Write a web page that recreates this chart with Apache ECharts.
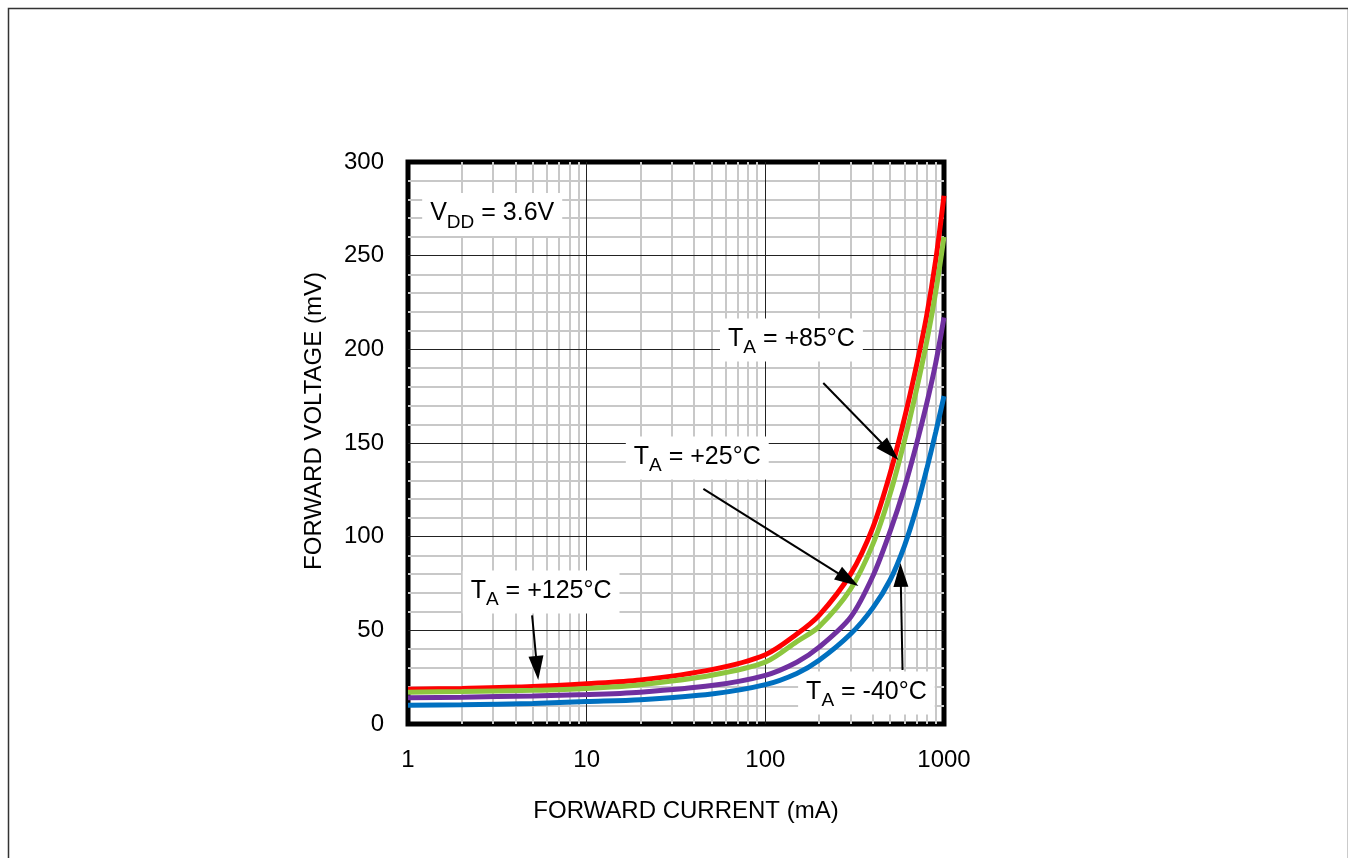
<!DOCTYPE html>
<html>
<head>
<meta charset="utf-8">
<script src="https://cdn.jsdelivr.net/npm/echarts@6/dist/echarts.min.js"></script>
<style>
  html, body { margin: 0; padding: 0; background: #fff; }
  #chart { width: 1348px; height: 858px; }
</style>
</head>
<body>
<div id="chart"></div>
<script>
  // forward current (mA) and forward voltage (mV) per temperature
  var current = [1, 2, 5, 10, 20, 50, 100, 150, 200, 300, 400, 500, 600, 700, 800, 900, 1000];
  var vf125 = [18.5, 19, 20, 21.5, 23.5, 29, 37, 48, 58, 80, 105, 134, 163, 191, 218, 248, 282];
  var vf85 = [17, 17.3, 18, 19, 21, 26, 33, 44, 52, 72, 96, 123, 151, 178, 204, 231, 260];
  var vf25 = [14, 14.3, 15, 15.7, 17, 20.5, 26, 33, 41, 57, 79, 103, 126, 149, 171, 193, 217];
  var vfm40 = [10, 10.3, 11, 12, 13, 16, 21, 27, 34, 48, 62, 77, 95, 115, 136, 156, 175];

  var xTicks = [1, 10, 100, 1000];
  var yTicks = [0, 50, 100, 150, 200, 250, 300];
  var xMinor = [2, 3, 4, 5, 6, 7, 8, 9, 20, 30, 40, 50, 60, 70, 80, 90, 200, 300, 400, 500, 600, 700, 800, 900];
  var yMinor = [10, 20, 30, 40, 60, 70, 80, 90, 110, 120, 130, 140, 160, 170, 180, 190, 210, 220, 230, 240, 260, 270, 280, 290];

  var font = "'Liberation Sans', Arial, Helvetica, sans-serif";

  function pairs(ys) {
    return current.map(function (x, i) { return [x, ys[i]]; });
  }

  function curve(name, ys, color) {
    return {
      name: name,
      type: 'line',
      data: pairs(ys),
      smooth: 0.3,
      showSymbol: false,
      z: 3,
      lineStyle: { color: color, width: 5 },
      itemStyle: { color: color }
    };
  }

  function gridLines(xs, ys, color, width, z) {
    return {
      type: 'line',
      data: [],
      z: z,
      silent: true,
      markLine: {
        z: z,
        silent: true,
        symbol: 'none',
        label: { show: false },
        animation: false,
        lineStyle: { color: color, width: width, type: 'solid' },
        data: xs.map(function (v) { return { xAxis: v }; })
          .concat(ys.map(function (v) { return { yAxis: v }; }))
      }
    };
  }

  var txt = { fontFamily: font, fontSize: 25, color: '#000' };
  var sub = { fontFamily: font, fontSize: 19, color: '#000', padding: [18, 0, 0, 0] };

  function note(coord, text) {
    return {
      coord: coord,
      symbol: 'circle',
      symbolSize: 1,
      itemStyle: { color: 'rgba(0,0,0,0)' },
      label: {
        show: true,
        position: 'inside',
        formatter: text,
        backgroundColor: '#fff',
        padding: [2, 8, 4, 8],
        rich: { t: txt, s: sub }
      }
    };
  }

  function arrow(from, to) {
    return [
      { coord: from, symbol: 'none' },
      { coord: to, symbol: 'triangle', symbolSize: [15, 24] }
    ];
  }

  var chart = echarts.init(document.getElementById('chart'));

  chart.setOption({
    animation: false,
    backgroundColor: '#fff',
    textStyle: { fontFamily: font },
    graphic: [{
      type: 'rect',
      left: 6, top: 6,
      shape: { width: 1340, height: 870 },
      style: { fill: 'none', stroke: '#333', lineWidth: 1.5 },
      silent: true
    }],
    grid: {
      left: 408, top: 162, width: 536, height: 562,
      show: true,
      borderColor: '#000',
      borderWidth: 5,
      backgroundColor: '#fff'
    },
    xAxis: {
      type: 'log',
      logBase: 10,
      min: 1,
      max: 1000,
      name: 'FORWARD CURRENT (mA)',
      nameLocation: 'middle',
      nameGap: 75,
      nameTextStyle: { fontFamily: font, fontSize: 24, color: '#000', padding: [0, 0, 0, 20] },
      axisLine: { show: false },
      axisTick: { show: false },
      splitLine: { show: false },
      axisLabel: {
        fontFamily: font, fontSize: 24, color: '#000', margin: 24,
        formatter: function (v) { return String(v); }
      }
    },
    yAxis: {
      type: 'value',
      min: 0,
      max: 300,
      interval: 50,
      name: 'FORWARD VOLTAGE (mV)',
      nameLocation: 'middle',
      nameGap: 82,
      nameTextStyle: { fontFamily: font, fontSize: 24, color: '#000', padding: [0, 0, 0, 44] },
      axisLine: { show: false },
      axisTick: { show: false },
      splitLine: { show: false },
      axisLabel: { fontFamily: font, fontSize: 24, color: '#000', margin: 24 }
    },
    series: [
      gridLines(xMinor, yMinor, '#c8c8c8', 2, 1),
      gridLines(xTicks.slice(1, 3), yTicks.slice(1, 6), '#222', 1, 2),
      curve('TA = +125°C', vf125, '#ff0000'),
      curve('TA = +85°C', vf85, '#8dc63f'),
      curve('TA = +25°C', vf25, '#7030a0'),
      curve('TA = -40°C', vfm40, '#0070c0'),
      {
        type: 'line',
        data: [],
        z: 2,
        silent: true,
        markPoint: {
          z: 2,
          zlevel: 0,
          silent: true,
          animation: false,
          data: [
            note([2.96, 272], '{t|V}{s|DD}{t| = 3.6V}'),
            note([140, 205], '{t|T}{s|A}{t| = +85°C}'),
            note([41.6, 142], '{t|T}{s|A}{t| = +25°C}'),
            note([5.56, 70.5], '{t|T}{s|A}{t| = +125°C}'),
            note([368, 16.5], '{t|T}{s|A}{t| = -40°C}')
          ]
        }
      },
      {
        type: 'line',
        data: [],
        z: 5,
        silent: true,
        markLine: {
          z: 5,
          silent: true,
          animation: false,
          label: { show: false },
          lineStyle: { color: '#000', width: 2, type: 'solid' },
          data: [
            arrow([4.95, 58], [5.28, 29.9]),
            arrow([211, 182], [499, 145.5]),
            arrow([45, 125.5], [291, 77.1]),
            arrow([586, 28.8], [572, 79.6])
          ]
        }
      }
    ]
  });
</script>
</body>
</html>
